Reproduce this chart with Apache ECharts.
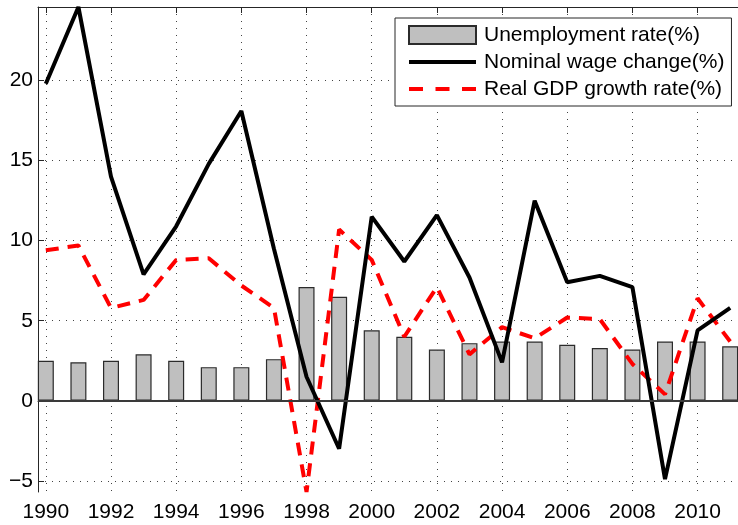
<!DOCTYPE html>
<html>
<head>
<meta charset="utf-8">
<script src="https://cdn.jsdelivr.net/npm/echarts@6/dist/echarts.min.js"></script>
<style>
  html, body { margin: 0; padding: 0; background: #fff; }
  #chart { width: 738px; height: 525px; }
</style>
</head>
<body>
<div id="chart"></div>
<script>
const years = [1990, 1991, 1992, 1993, 1994, 1995, 1996, 1997, 1998, 1999, 2000,
  2001, 2002, 2003, 2004, 2005, 2006, 2007, 2008, 2009, 2010, 2011];
const unemployment = [2.5, 2.4, 2.5, 2.9, 2.5, 2.1, 2.1, 2.6, 7.1, 6.5, 4.4,
  4.0, 3.2, 3.6, 3.7, 3.7, 3.5, 3.3, 3.2, 3.7, 3.7, 3.4];
const wage = [19.8, 24.6, 14.0, 7.9, 10.9, 14.8, 18.1, 9.5, 1.5, -3.0, 11.5,
  8.7, 11.6, 7.7, 2.4, 12.5, 7.4, 7.8, 7.1, -4.9, 4.4, 5.8];
const gdp = [9.4, 9.7, 5.8, 6.3, 8.8, 8.9, 7.2, 5.8, -5.7, 10.7, 8.8,
  4.0, 7.1, 2.9, 4.6, 3.9, 5.2, 5.1, 2.3, 0.4, 6.4, 3.7];
const xTicks = [1990, 1992, 1994, 1996, 1998, 2000, 2002, 2004, 2006, 2008, 2010];
const yTicks = [-5, 0, 5, 10, 15, 20];

const pair = arr => years.map((y, i) => [y, arr[i]]);
const font = "'Liberation Sans', Arial, sans-serif";
const axisColor = '#262626';

// legend swatches: a solid bar and three dashes, 67 x 4
const solidIcon = 'path://M0,0H67V4H0Z';
const dashIcon = 'path://M0,0H14V4H0ZM26.5,0H40.5V4H26.5ZM53,0H67V4H53Z';

let myChart = echarts.init(document.getElementById('chart'));
myChart.setOption({
  animation: false,
  grid: { left: 38, top: 7, right: -9, bottom: 33 },
  legend: {
    orient: 'vertical',
    left: 395,
    top: 18,
    padding: [6, 7, 6, 13],
    itemWidth: 67,
    itemHeight: 18,
    itemGap: 5,
    backgroundColor: '#fff',
    borderColor: axisColor,
    borderWidth: 1,
    textStyle: { fontFamily: font, fontSize: 21, color: '#000', lineHeight: 22, padding: [0, 0, 0, 3] },
    data: [
      { name: 'Unemployment rate(%)', icon: 'rect' },
      { name: 'Nominal wage change(%)', icon: solidIcon },
      { name: 'Real GDP growth rate(%)', icon: dashIcon }
    ]
  },
  xAxis: [
    {
      type: 'value',
      min: 1989.76,
      max: 2011.24,
      axisLine: { lineStyle: { color: axisColor, width: 1 } },
      axisTick: { inside: true, length: 6, customValues: xTicks, lineStyle: { color: axisColor } },
      axisLabel: {
        customValues: xTicks,
        fontFamily: font, fontSize: 21, color: '#000', margin: 10,
        formatter: v => String(v)
      },
      splitLine: { show: true, lineStyle: { color: '#444', type: [1, 6], width: 1 } }
    },
    {
      type: 'value',
      position: 'top',
      min: 1989.76,
      max: 2011.24,
      axisLine: { show: true, lineStyle: { color: axisColor, width: 1 } },
      axisTick: { inside: true, length: 6, customValues: xTicks, lineStyle: { color: axisColor } },
      axisLabel: { show: false },
      splitLine: { show: false }
    }
  ],
  yAxis: {
    type: 'value',
    min: -5.7,
    max: 24.6,
    axisLine: { show: true, lineStyle: { color: axisColor, width: 1 } },
    axisTick: { show: true, inside: true, length: 6, customValues: yTicks, lineStyle: { color: axisColor } },
    axisLabel: {
      customValues: yTicks,
      fontFamily: font, fontSize: 21, color: '#000', margin: 5,
      formatter: v => (v < 0 ? '\u2212' + Math.abs(v) : String(v))
    },
    splitLine: { show: true, lineStyle: { color: '#444', type: [1, 6], width: 1 } }
  },
  series: [
    {
      name: 'Unemployment rate(%)',
      type: 'bar',
      barWidth: 16,
      data: pair(unemployment),
      itemStyle: { color: '#bfbfbf', borderColor: '#2b2b2b', borderWidth: 1.2 },
      markLine: {
        silent: true,
        symbol: 'none',
        label: { show: false },
        lineStyle: { color: '#3a3a3a', type: 'solid', width: 2 },
        data: [{ yAxis: 0 }]
      },
      z: 2
    },
    {
      name: 'Nominal wage change(%)',
      type: 'line',
      data: pair(wage),
      symbol: 'none',
      color: '#000',
      lineStyle: { color: '#000', width: 4 },
      z: 4
    },
    {
      name: 'Real GDP growth rate(%)',
      type: 'line',
      data: pair(gdp),
      symbol: 'none',
      color: '#ff0000',
      lineStyle: { color: '#ff0000', width: 4, type: [13, 9] },
      z: 3
    }
  ]
});
window.addEventListener('resize', function() {
  myChart.resize();
});
</script>
</body>
</html>
